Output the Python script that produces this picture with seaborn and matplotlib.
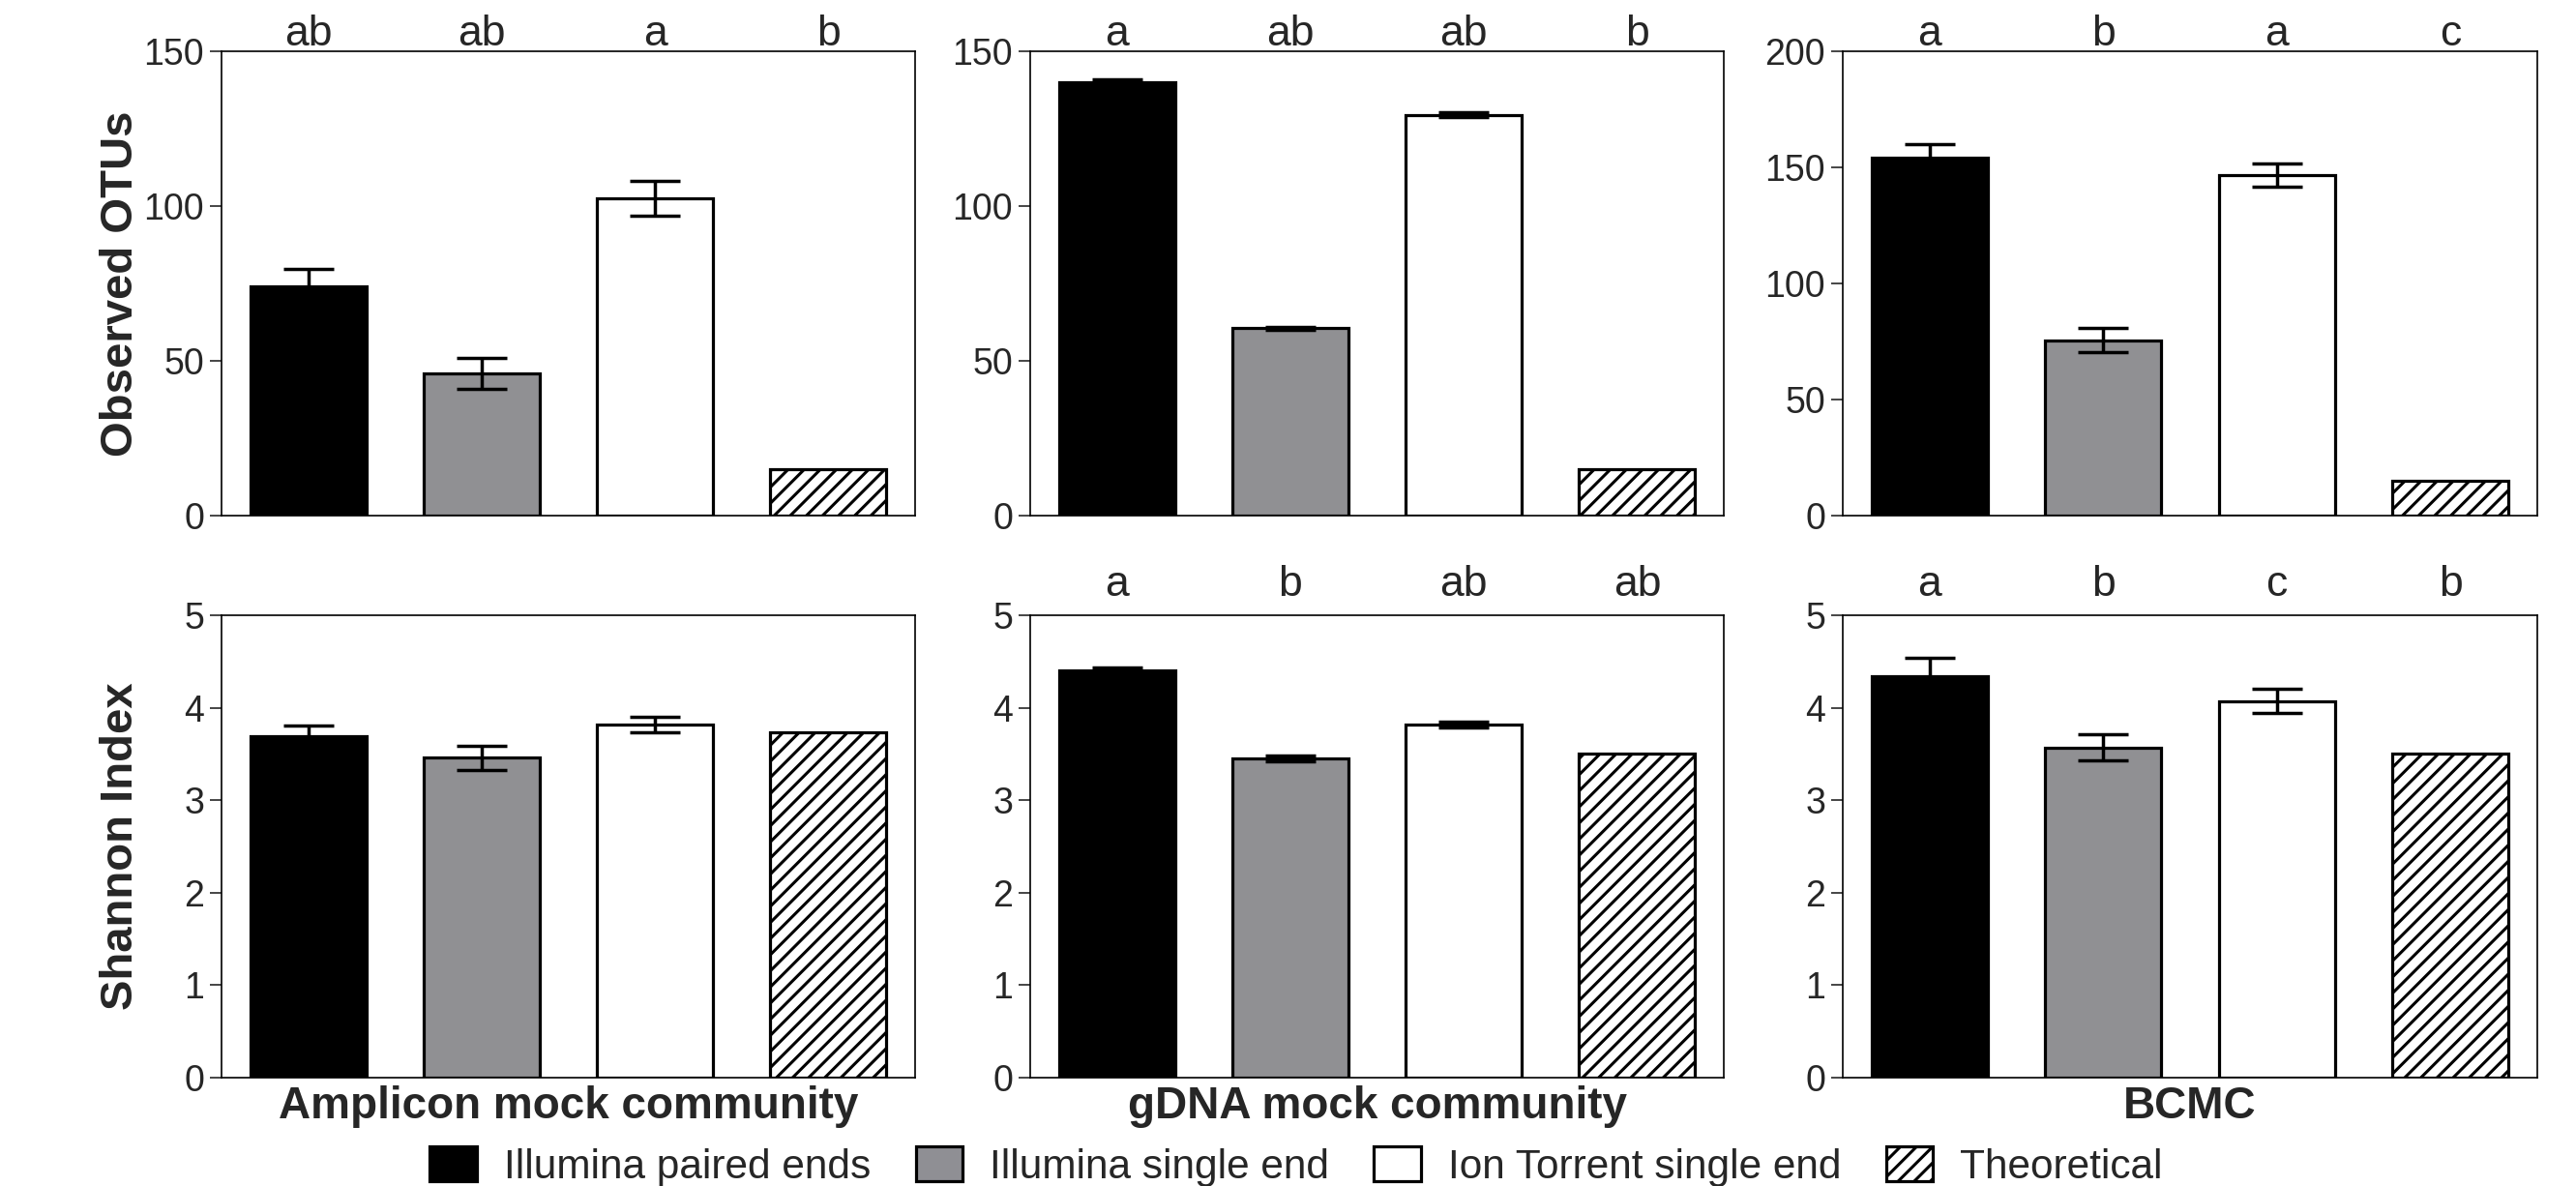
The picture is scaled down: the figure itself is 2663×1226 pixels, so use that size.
import numpy as np
import pandas as pd
import seaborn as sns
import matplotlib.pyplot as plt
from matplotlib.patches import Patch

# data
methods = ['Illumina paired ends', 'Illumina single end', 'Ion Torrent single end', 'Theoretical']
communities = ['Amplicon mock community', 'gDNA mock community', 'BCMC']
colors = ['#000000', '#8f8f94', '#ffffff', '#ffffff']

otu_mean = [[74, 46, 102.5, 15], [140, 60.5, 129.5, 15], [154, 75.5, 146.5, 15]]
otu_err = [[5.6, 5.0, 5.7], [1.0, 0.5, 0.7], [5.8, 5.2, 5.0]]
otu_letters = [['ab', 'ab', 'a', 'b'], ['a', 'ab', 'ab', 'b'], ['a', 'b', 'a', 'c']]
otu_ymax = [150, 150, 200]

shannon_mean = [[3.69, 3.46, 3.815, 3.73], [4.40, 3.45, 3.82, 3.50], [4.34, 3.57, 4.07, 3.50]]
shannon_err = [[0.12, 0.13, 0.085], [0.03, 0.03, 0.03], [0.20, 0.14, 0.13]]
shannon_letters = [None, ['a', 'b', 'ab', 'ab'], ['a', 'b', 'c', 'b']]

sns.set_style('ticks')
plt.rcParams['font.family'] = ['Liberation Sans', 'DejaVu Sans']
plt.rcParams['hatch.linewidth'] = 2.2
plt.rcParams['hatch.color'] = 'black'

W, H = 2663, 1226
fig = plt.figure(figsize=(W / 100, H / 100), dpi=100)

lefts = [229, 1065, 1905]
rights = [946, 1782, 2623]
rows = [(53, 533), (636, 1114)]


def panel(ax, means, errs, letters, ymax, step, letter_off):
    df = pd.DataFrame({'method': methods, 'value': means})
    sns.barplot(data=df, x='method', y='value', hue='method', order=methods,
                hue_order=methods, palette=colors, edgecolor='black',
                linewidth=2.3, width=0.67, errorbar=None, legend=False, ax=ax)
    ax.patches[3].set_hatch('//')
    ax.errorbar(x=[0, 1, 2], y=means[:3], yerr=errs, fmt='none', ecolor='black',
                elinewidth=2.5, capsize=19, capthick=2.5, zorder=5)
    ax.set_xlim(-0.5, 3.5)
    ax.set_ylim(0, ymax)
    ax.set_yticks(np.arange(0, ymax + step / 2, step))
    ax.set_xticks([])
    ax.set_xlabel('')
    ax.set_ylabel('')
    ax.tick_params(axis='y', labelsize=27, length=9, width=1.2, pad=4, direction='out')
    for s in ax.spines.values():
        s.set_visible(True)
        s.set_linewidth(1.2)
        s.set_color('black')
    if letters:
        for i, lab in enumerate(letters):
            ax.annotate(lab, xy=(i, 1), xycoords=('data', 'axes fraction'),
                        xytext=(0, letter_off), textcoords='offset points',
                        ha='center', va='baseline', fontsize=32)


for j in range(3):
    for r, (top, bot) in enumerate(rows):
        ax = fig.add_axes([lefts[j] / W, 1 - bot / H, (rights[j] - lefts[j]) / W, (bot - top) / H])
        if r == 0:
            panel(ax, otu_mean[j], otu_err[j], otu_letters[j], otu_ymax[j], 50, 4)
            if j == 0:
                ax.set_ylabel('Observed OTUs', fontsize=34, fontweight='bold')
                ax.yaxis.set_label_coords(-0.115, 0.5)
        else:
            panel(ax, shannon_mean[j], shannon_err[j], shannon_letters[j], 5, 1, 14.5)
            ax.set_xlabel(communities[j], fontsize=33, fontweight='bold', labelpad=6)
            if j == 0:
                ax.set_ylabel('Shannon Index', fontsize=34, fontweight='bold')
                ax.yaxis.set_label_coords(-0.115, 0.5)

handles = [Patch(facecolor=c, edgecolor='black', linewidth=2.3) for c in colors]
handles[3].set_hatch('//')
fig.legend(handles, methods, loc='center', bbox_to_anchor=(1340 / W, 20 / H), ncol=4,
           frameon=False, fontsize=30.5, handlelength=1.15, handleheight=0.9,
           handletextpad=0.65, columnspacing=1.1, borderpad=0)

fig.savefig('out.png', dpi=100)
